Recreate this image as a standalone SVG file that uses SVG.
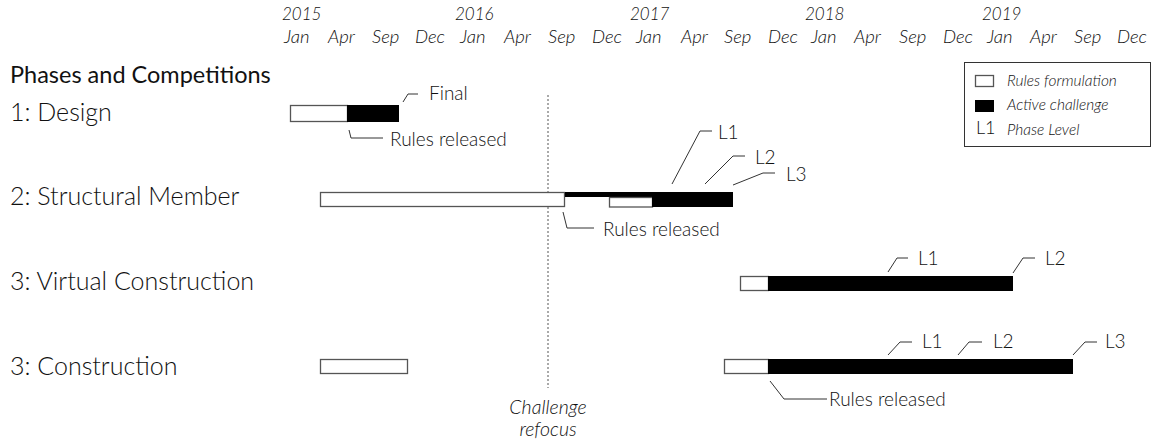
<svg xmlns="http://www.w3.org/2000/svg" width="1154" height="442" viewBox="0 0 1154 442">
<style>
text{font-family:Lato,"Liberation Sans",sans-serif;fill:#111}
.ax{font-style:italic;font-size:18.5px;font-weight:300}
.yr{font-size:17px}
.row{font-size:25px;font-weight:300}
.hd{font-size:23.5px;font-weight:400}
.lb{font-size:19px;font-weight:300}
.lg{font-size:15.5px;font-style:italic;font-weight:300}
.rf{fill:#fff;stroke:#555;stroke-width:1.3}
.ac{fill:#000;stroke:#000;stroke-width:1}
.ld{fill:none;stroke:#333;stroke-width:1}
</style>
<rect width="1154" height="442" fill="#fff"/>
<g id="axis" class="ax">
<text class="yr" x="282" y="20">2015</text><text class="yr" x="455" y="20">2016</text><text class="yr" x="630" y="20">2017</text><text class="yr" x="805" y="20">2018</text><text class="yr" x="982" y="20">2019</text>
<text x="284" y="43">Jan</text><text x="328" y="43">Apr</text><text x="372" y="43">Sep</text><text x="415" y="43">Dec</text>
<text x="460" y="43">Jan</text><text x="504" y="43">Apr</text><text x="548" y="43">Sep</text><text x="592" y="43">Dec</text>
<text x="636" y="43">Jan</text><text x="681" y="43">Apr</text><text x="724" y="43">Sep</text><text x="768" y="43">Dec</text>
<text x="811" y="43">Jan</text><text x="854" y="43">Apr</text><text x="899" y="43">Sep</text><text x="943" y="43">Dec</text>
<text x="987" y="43">Jan</text><text x="1030" y="43">Apr</text><text x="1074" y="43">Sep</text><text x="1117" y="43">Dec</text>
</g>
<text class="hd" x="10" y="83">Phases and Competitions</text>
<g id="legend">
<rect x="964.5" y="62.5" width="186" height="84" fill="#fff" stroke="#333" stroke-width="1"/>
<rect x="975.5" y="75.5" width="18" height="11" class="rf"/>
<rect x="975.5" y="100.5" width="18" height="11" class="ac"/>
<text x="976" y="134" style="font-size:18px;font-weight:300">L1</text>
<text class="lg" x="1007" y="86">Rules formulation</text>
<text class="lg" x="1007" y="110">Active challenge</text>
<text class="lg" x="1007" y="135">Phase Level</text>
</g>
<g id="refocus">
<line x1="548" y1="95" x2="548" y2="388" stroke="#555" stroke-width="1" stroke-dasharray="2,2"/>
<text class="lg" x="548" y="414" text-anchor="middle" style="font-size:19.5px">Challenge</text>
<text class="lg" x="548" y="436" text-anchor="middle" style="font-size:19.5px">refocus</text>
</g>
<g id="design">
<text class="row" x="10" y="121">1: Design</text>
<rect x="290.5" y="105.5" width="57" height="16" class="rf"/>
<rect x="347.5" y="105.5" width="51" height="16" class="ac"/>
</g>
<g id="structural">
<text class="row" x="10" y="205">2: Structural Member</text>
<rect x="320.5" y="192.5" width="244" height="14" class="rf"/>
<rect x="565" y="192" width="88" height="5" fill="#000"/>
<rect x="609.5" y="197.5" width="43" height="9.5" class="rf"/>
<rect x="652.5" y="192.5" width="80" height="14" class="ac"/>
</g>
<g id="virtual">
<text class="row" x="10" y="290">3: Virtual Construction</text>
<rect x="740.5" y="276.5" width="28" height="14" class="rf"/>
<rect x="768.5" y="276.5" width="244" height="14" class="ac"/>
</g>
<g id="construction">
<text class="row" x="10" y="375">3: Construction</text>
<rect x="320.5" y="359.5" width="87" height="14" class="rf"/>
<rect x="724.5" y="359.5" width="44" height="14" class="rf"/>
<rect x="768.5" y="359.5" width="304" height="14" class="ac"/>
</g>
<g id="connectors" class="ld">
<polyline points="403,102 408,94 418,94"/>
<polyline points="349,130 351,138 383,138"/>
<polyline points="672,184 700,131 712,131"/>
<polyline points="705,184 733,156 745,156"/>
<polyline points="733,185 763,173 775,173"/>
<polyline points="563,212 567,228 594,228"/>
<polyline points="888,272 897,258 908,258"/>
<polyline points="1013,273 1023,258 1035,258"/>
<polyline points="888,355 900,342 912,342"/>
<polyline points="958,355 969,342 982,342"/>
<polyline points="1073,355 1085,342 1097,342"/>
<polyline points="770,381 784,399 827,399"/>
</g>
<g id="labels" class="lb">
<text x="429" y="100">Final</text>
<text x="390" y="146">Rules released</text>
<text x="718" y="139">L1</text>
<text x="755" y="164">L2</text>
<text x="786" y="181">L3</text>
<text x="603" y="236">Rules released</text>
<text x="918" y="265">L1</text>
<text x="1045" y="265">L2</text>
<text x="922" y="348">L1</text>
<text x="993" y="348">L2</text>
<text x="1105" y="348">L3</text>
<text x="829" y="406">Rules released</text>
</g>
</svg>
